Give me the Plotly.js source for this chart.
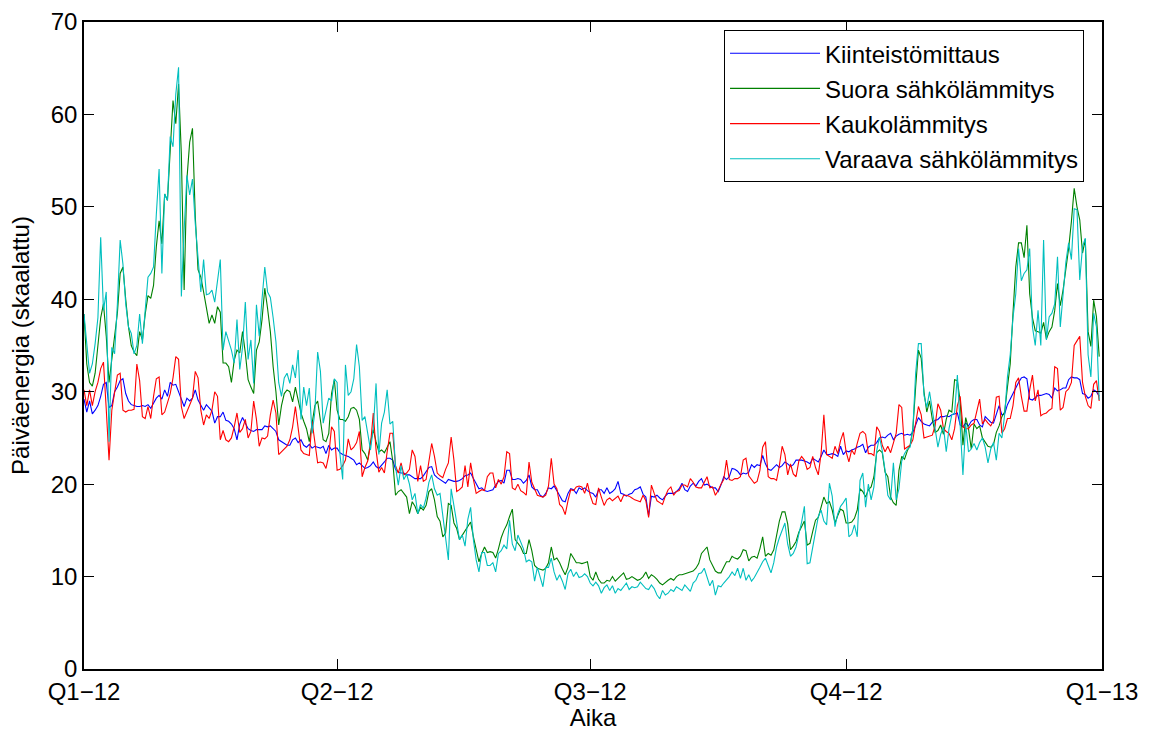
<!DOCTYPE html>
<html>
<head>
<meta charset="utf-8">
<script src="https://cdn.plot.ly/plotly-3.0.1.min.js"></script>
<style>html,body{margin:0;padding:0;background:#fff;}#chart{width:1150px;height:731px;}</style>
</head>
<body>
<div id="chart"></div>
<script>
// Daily values for 2012 (366 days)
const seriesNames = ["Kiinteistömittaus", "Suora sähkölämmitys", "Kaukolämmitys", "Varaava sähkölämmitys"];
const tickLabels = ["Q1\u221212", "Q2\u221212", "Q3\u221212", "Q4\u221212", "Q1\u221213"];
const tickDates = ["2012-01-01", "2012-04-01", "2012-07-01", "2012-10-01", "2013-01-01"];
const startYear = 2012;

const kiinteisto = [
 29.2,27.8,29.0,27.6,28.0,28.5,29.5,30.8,31.0,28.3,28.5,30.0,30.5,31.2,31.4,29.8,29.0,28.6,28.5,28.4,28.4,28.5,28.4,28.6,28.2,28.8,29.3,29.6,29.2,30.2,29.5,31.0,30.7,30.8,30.0,29.2,28.4,
 29.3,29.0,29.3,30.2,29.1,28.5,28.0,28.6,28.2,27.9,26.6,27.3,27.3,27.8,26.9,26.8,26.5,26.0,24.8,26.5,27.2,26.5,26.0,25.8,25.7,25.9,25.9,25.9,26.3,26.2,26.3,26.0,25.7,24.8,24.6,24.4,24.2,
 24.2,24.8,25.0,24.5,24.8,24.2,24.0,24.3,23.9,24.1,24.0,23.9,24.1,23.3,24.2,23.7,23.9,23.9,23.4,23.2,23.1,23.0,22.8,22.6,22.1,22.3,22.0,21.7,21.8,22.0,22.4,21.9,21.7,22.0,22.4,22.8,22.8,
 22.6,21.6,21.3,21.2,21.2,21.0,21.0,20.8,20.6,20.6,20.6,20.9,21.4,21.8,21.9,21.0,20.7,20.5,20.3,20.1,20.5,20.4,20.3,20.3,20.4,20.6,20.9,21.0,21.2,20.6,20.1,19.5,19.6,19.3,19.2,19.3,19.4,
 19.9,20.3,20.4,20.1,21.5,21.5,20.5,20.5,20.6,20.5,20.1,20.4,21.0,19.7,19.4,19.4,18.8,18.6,19.0,19.6,19.5,19.8,19.3,18.8,18.2,18.1,19.0,19.5,19.4,19.0,19.6,19.4,19.6,19.3,19.1,19.0,
 18.6,19.4,19.4,19.0,19.6,19.0,19.2,19.5,20.3,19.0,18.9,18.7,18.9,19.0,19.4,19.5,19.7,18.9,18.6,16.6,18.7,18.6,18.8,18.5,18.3,18.7,19.0,19.0,19.0,19.2,19.5,20.1,19.4,19.2,19.8,20.1,19.8,
 20.3,20.6,19.9,20.0,19.8,19.6,19.6,19.2,19.9,20.8,20.5,20.8,21.7,21.6,21.4,21.0,21.2,21.1,21.3,22.1,21.8,22.1,22.0,23.1,22.2,21.6,21.5,21.8,22.1,21.8,22.0,22.4,22.2,21.9,22.1,22.6,
 22.6,22.6,22.5,22.4,22.2,22.8,22.6,22.4,23.0,23.7,23.2,23.2,23.3,23.2,23.0,24.1,23.2,23.6,23.5,23.7,23.8,24.0,24.1,24.3,23.4,24.0,24.2,24.2,24.5,25.0,25.1,25.0,25.3,25.5,24.8,25.2,25.4,
 25.5,25.3,25.4,25.3,25.6,26.4,27.2,26.8,26.5,26.4,26.3,26.7,26.9,27.0,27.3,27.3,27.4,27.3,27.5,27.6,27.7,26.4,26.2,26.6,26.3,26.8,27.0,27.0,26.4,26.2,27.3,27.0,26.7,26.6,27.5,28.5,27.5,
 27.6,28.6,29.2,29.8,30.5,31.0,31.5,31.6,31.4,29.2,29.1,29.4,29.6,29.6,29.7,29.8,29.7,29.3,30.4,30.1,30.2,30.4,30.4,31.3,31.6,31.5,31.5,31.3,29.8,29.7,29.3,29.5,30.2,30.0,29.5
];

const suora = [
 38.4,33.0,31.0,30.6,32.0,35.0,38.0,39.5,36.0,31.0,33.4,36.0,38.5,42.8,43.5,40.0,37.0,35.0,34.3,33.9,36.5,35.6,38.4,40.4,40.1,41.5,45.7,48.5,46.0,51.4,50.7,56.1,61.5,59.0,63.3,55.7,41.0,
 53.0,57.0,58.5,49.0,43.2,42.4,40.8,39.2,37.4,38.3,37.4,39.2,38.6,33.1,33.1,32.7,31.0,33.4,34.5,34.2,36.5,34.2,31.3,30.5,29.8,34.5,35.4,37.8,41.2,39.0,36.5,32.7,30.0,26.4,28.5,29.8,30.2,
 30.0,28.9,30.5,29.0,27.7,26.8,26.0,24.6,26.5,28.5,29.0,27.0,24.8,24.6,25.5,29.8,31.3,28.0,27.0,27.0,26.8,27.3,28.2,28.3,28.0,27.0,23.7,23.3,22.6,24.5,25.9,24.6,23.5,23.7,23.4,24.0,24.6,
 22.5,18.8,19.2,19.4,19.0,18.6,16.8,18.1,17.6,16.8,17.5,17.2,17.7,19.2,19.5,18.3,16.5,16.0,14.3,14.7,17.9,17.7,15.8,15.2,14.0,14.5,14.9,15.4,15.9,14.3,12.9,11.6,12.5,13.2,12.6,12.7,12.6,
 12.0,13.0,14.2,15.0,15.6,16.5,17.3,14.0,13.6,13.2,12.5,12.5,14.0,12.8,11.2,10.9,10.8,10.7,10.9,11.5,13.2,11.8,12.0,11.5,10.8,10.2,11.0,12.5,12.0,11.5,11.5,11.4,11.5,11.6,10.0,9.6,
 10.5,9.7,9.3,9.3,9.6,9.5,10.0,9.5,9.8,10.1,10.4,9.7,9.8,10.0,9.8,9.6,9.7,10.0,10.5,9.8,10.2,10.0,9.7,9.3,9.1,9.4,9.6,9.8,9.6,10.0,10.2,10.2,10.3,10.4,10.5,10.6,10.9,
 11.4,12.5,12.9,13.2,11.8,11.2,10.6,10.4,10.4,11.0,11.6,11.6,12.2,12.0,11.9,12.2,12.9,12.8,11.7,12.1,12.2,12.0,13.0,14.3,12.2,12.5,12.3,12.9,14.6,16.0,17.0,17.0,15.7,12.9,13.3,13.8,
 14.8,15.5,16.0,13.4,13.6,14.9,16.1,16.4,17.5,18.6,17.9,18.1,17.2,15.8,16.6,17.3,17.1,15.8,15.8,15.9,16.3,17.2,19.5,19.2,18.6,19.4,19.7,20.8,23.4,23.7,23.4,21.3,20.8,18.6,18.0,17.7,21.5,
 23.0,22.7,23.6,24.2,26.0,30.5,34.5,33.6,30.0,27.8,29.0,27.0,25.6,25.8,26.4,25.4,27.0,28.0,27.8,31.3,31.2,29.0,24.2,27.2,26.0,23.8,26.5,26.0,26.3,25.0,24.6,24.1,24.0,24.3,25.6,26.3,27.3,
 27.8,30.5,33.0,38.5,43.5,46.1,46.1,44.5,48.0,40.6,38.0,36.6,36.5,36.3,37.5,35.7,36.5,37.0,38.8,41.7,39.3,41.0,43.0,45.5,48.4,52.0,50.0,48.6,45.0,46.5,36.5,34.9,39.9,38.1,33.8
];

const kauko = [
 30.2,28.5,30.2,28.5,30.0,31.0,32.5,33.2,28.1,22.6,28.0,29.8,31.8,32.0,28.0,27.8,28.0,28.0,28.1,33.0,31.2,27.3,27.1,28.4,27.1,29.5,31.4,31.6,27.5,27.8,28.8,29.8,31.5,33.8,33.5,28.4,27.1,
 27.8,28.5,29.3,32.2,31.5,28.0,26.4,27.5,27.1,28.0,30.0,29.5,24.8,25.8,24.8,24.6,25.0,26.2,27.7,25.6,26.0,27.0,25.0,25.7,29.0,27.0,24.1,25.0,24.9,25.2,27.5,29.1,27.7,23.2,23.5,23.8,24.1,
 24.8,26.2,28.4,26.2,23.7,23.3,23.2,23.1,26.8,24.5,22.3,22.4,22.3,21.7,23.1,26.2,25.7,21.5,21.6,22.0,22.6,24.9,23.7,24.0,24.5,25.7,20.8,21.8,22.5,24.2,27.7,23.7,21.3,21.8,21.2,23.5,25.5,
 25.5,22.0,21.2,22.3,21.0,21.2,21.6,23.7,23.0,20.3,22.0,20.3,20.5,22.3,24.4,23.0,21.2,20.9,20.7,21.6,22.3,25.1,22.6,19.2,19.4,19.7,22.0,19.7,22.3,20.5,19.0,19.2,19.4,19.3,20.8,21.2,21.2,
 19.6,20.5,20.0,20.8,23.5,23.3,19.6,19.4,20.0,19.3,19.1,18.8,22.4,20.2,19.5,18.8,18.7,18.6,18.8,19.8,22.8,20.0,19.5,17.8,17.5,16.7,18.2,19.4,19.3,19.7,19.8,19.7,19.0,20.1,18.8,17.9,
 17.8,19.6,18.6,17.7,18.3,18.5,18.2,18.5,18.7,18.1,18.8,18.8,18.7,18.5,18.3,18.2,18.1,18.8,18.2,16.4,19.9,19.0,18.2,18.0,17.8,18.7,19.4,19.7,18.8,19.2,19.3,19.9,19.9,19.7,20.6,20.2,19.7,
 19.6,19.6,20.2,20.8,19.6,19.7,18.8,19.3,20.0,20.5,22.6,20.5,20.4,20.6,20.6,20.8,22.6,22.8,20.9,20.5,20.1,20.3,21.5,24.0,24.6,20.8,20.6,20.6,20.4,22.0,24.1,23.2,21.0,22.2,21.1,20.8,
 22.5,23.0,22.6,21.6,21.8,23.0,21.8,21.0,23.3,27.5,23.2,23.0,22.8,24.1,23.3,24.7,25.6,23.5,22.4,23.7,23.2,24.4,25.5,25.7,25.4,23.3,23.3,23.1,26.2,25.7,24.2,23.5,24.1,23.4,24.4,25.5,28.6,
 28.3,23.8,24.0,24.2,24.8,26.5,28.4,27.5,25.0,25.1,25.2,25.3,26.3,28.7,28.0,26.0,25.7,25.5,24.8,26.0,28.5,29.5,26.2,26.0,26.0,26.4,26.6,28.0,29.2,26.5,27.0,26.6,26.3,26.9,29.4,29.5,25.5,
 26.0,27.1,27.1,28.5,31.0,31.5,29.5,27.9,27.9,30.2,31.8,29.0,30.2,27.4,27.6,27.7,28.0,28.2,32.7,32.5,28.0,28.3,30.0,30.3,31.0,35.0,35.5,36.0,31.0,29.5,28.5,28.2,30.8,31.2,29.0
];

const varaava = [
 38.4,34.8,32.0,33.0,35.2,38.0,46.7,38.8,40.8,24.6,34.8,34.1,39.5,46.4,43.8,39.5,37.0,36.3,34.1,35.0,38.4,35.2,39.1,42.4,42.8,43.5,49.2,54.1,42.8,51.4,50.7,57.6,56.5,62.2,65.1,40.3,47.5,
 53.4,51.3,53.0,48.2,44.0,40.8,44.3,40.5,40.6,41.0,39.7,42.0,44.3,34.5,36.5,35.5,34.5,33.1,37.8,32.4,34.8,39.7,33.5,35.6,30.9,39.4,36.0,40.0,43.5,40.8,40.2,38.0,35.4,31.0,29.5,31.5,32.0,
 30.9,32.9,31.5,34.5,27.0,30.5,28.5,30.4,25.5,27.8,34.3,32.2,26.6,28.0,29.3,29.0,31.4,31.0,23.3,20.5,32.9,29.6,30.0,31.4,35.1,32.7,26.9,27.3,25.5,23.7,26.0,30.9,23.2,26.6,27.8,30.2,26.5,
 26.8,21.9,19.9,22.0,20.5,21.1,20.0,18.3,19.0,16.8,17.8,17.4,18.5,20.2,21.0,19.5,18.8,19.0,16.5,14.0,11.8,19.5,17.5,15.5,14.0,14.5,13.3,16.2,17.5,14.0,11.8,10.5,12.6,12.6,11.2,11.2,11.5,
 10.5,12.5,12.8,13.4,13.0,16.1,13.5,12.8,14.5,13.8,13.0,11.6,11.8,11.6,9.5,11.0,10.0,8.9,11.0,11.0,12.0,10.5,9.6,10.2,9.5,8.6,10.3,10.8,10.0,10.5,9.9,10.0,10.3,10.0,9.3,9.0,
 9.4,9.0,8.2,8.8,9.1,8.5,9.0,8.2,8.7,8.5,8.9,9.3,8.6,8.9,8.8,8.9,9.4,9.1,8.7,8.6,9.1,8.7,8.0,7.6,8.5,8.0,8.2,8.6,8.4,8.9,8.7,8.5,9.1,8.7,8.4,9.3,9.6,
 10.3,10.4,10.9,10.0,9.0,9.6,8.0,9.0,8.9,9.3,9.6,10.0,10.5,10.1,10.9,9.8,10.9,9.6,10.2,9.5,9.9,10.4,11.0,11.6,12.0,11.2,10.4,11.5,13.2,14.2,15.0,15.8,13.5,12.2,12.5,13.2,
 14.6,15.9,17.6,11.4,11.5,13.2,15.0,16.5,17.2,16.0,15.6,20.1,18.7,15.4,16.8,17.6,18.0,18.5,14.3,14.6,15.6,14.3,20.4,21.2,17.5,20.0,18.3,19.7,23.6,25.1,23.6,21.5,18.8,18.3,22.3,18.3,19.5,
 22.5,23.3,23.8,24.0,26.0,32.0,35.2,35.2,29.6,28.3,30.0,28.0,26.2,24.0,25.4,26.2,23.5,26.0,27.5,27.7,31.8,27.0,21.0,26.5,23.5,23.8,24.4,23.7,24.5,25.0,24.0,22.3,23.8,24.5,22.6,25.5,25.0,
 27.5,31.6,34.0,38.0,40.6,45.5,42.0,42.8,43.2,45.5,37.0,35.0,38.8,35.0,46.4,35.6,38.1,38.5,39.5,44.6,37.0,41.0,44.0,46.1,44.3,49.8,49.7,42.1,45.7,46.6,34.0,31.6,38.5,37.0,29.1
];

const colors = ["#0000ff", "#008000", "#ff0000", "#00bfbf"];
const seriesData = [kiinteisto, suora, kauko, varaava];

function dayDate(i) {
  return new Date(Date.UTC(startYear, 0, 1 + i)).toISOString().slice(0, 10);
}

const fontFamily = '"Liberation Sans", Arial, Helvetica, sans-serif';
const fontSize = 24;

const traces = seriesData.map((vals, k) => ({
  type: "scatter",
  mode: "lines",
  name: seriesNames[k],
  legendgroup: "g" + k,
  x: vals.map((_, i) => dayDate(i)),
  y: vals,
  line: { color: colors[k], width: 1.1 },
  hoverinfo: "x+y+name"
}));

const layout = {
  width: 1150,
  height: 731,
  margin: { l: 84, r: 48, t: 22, b: 62 },
  paper_bgcolor: "#ffffff",
  plot_bgcolor: "#ffffff",
  font: { family: fontFamily, size: fontSize, color: "#000000" },
  showlegend: true,
  legend: {
    x: 0.6287, xanchor: "left",
    y: 0.9875, yanchor: "top",
    bgcolor: "#ffffff",
    bordercolor: "#000000",
    borderwidth: 1,
    font: { family: fontFamily, size: fontSize, color: "#000000" },
    traceorder: "grouped",
    tracegroupgap: 1,
    itemwidth: 90
  },
  xaxis: {
    type: "date",
    range: [tickDates[0], tickDates[tickDates.length - 1]],
    tickmode: "array",
    tickvals: tickDates,
    ticktext: tickLabels,
    ticks: "inside",
    ticklen: 10,
    tickwidth: 1,
    tickcolor: "#000000",
    showline: true,
    linecolor: "#000000",
    linewidth: 1.5,
    mirror: "ticks",
    showgrid: false,
    zeroline: false,
    automargin: false,
    tickfont: { family: fontFamily, size: fontSize, color: "#000000" },
    title: { text: "Aika", font: { family: fontFamily, size: fontSize, color: "#000000" }, standoff: 6 }
  },
  yaxis: {
    range: [0, 70],
    tickmode: "array",
    tickvals: [0, 10, 20, 30, 40, 50, 60, 70],
    ticks: "inside",
    ticklen: 10,
    tickwidth: 1,
    tickcolor: "#000000",
    showline: true,
    linecolor: "#000000",
    linewidth: 1.5,
    mirror: "ticks",
    showgrid: false,
    zeroline: false,
    automargin: false,
    tickfont: { family: fontFamily, size: fontSize, color: "#000000" },
    title: { text: "Päiväenergia (skaalattu)", font: { family: fontFamily, size: fontSize, color: "#000000" }, standoff: 14 }
  }
};

Plotly.newPlot("chart", traces, layout, { displayModeBar: false, responsive: false });
</script>
</body>
</html>
